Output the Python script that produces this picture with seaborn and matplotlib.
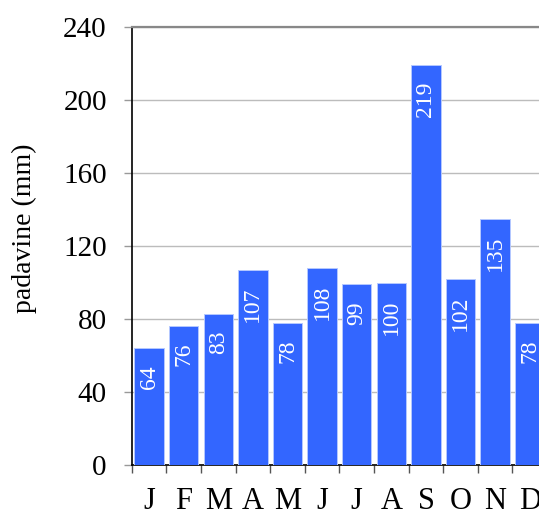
import matplotlib
matplotlib.use("Agg")
import matplotlib.pyplot as plt
import seaborn as sns
import pandas as pd
import numpy as np

months = ["J", "F", "M", "A", "M", "J", "J", "A", "S", "O", "N", "D"]
rainfall = [64, 76, 83, 107, 78, 108, 99, 100, 219, 102, 135, 78]
y_ticks = [0, 40, 80, 120, 160, 200, 240]

sns.set_style("white")
plt.rcParams["font.family"] = ["Liberation Serif", "DejaVu Serif"]
plt.rcParams["text.color"] = "black"
plt.rcParams["xtick.labelcolor"] = "black"
plt.rcParams["ytick.labelcolor"] = "black"
plt.rcParams["axes.labelcolor"] = "black"

df = pd.DataFrame({"pos": np.arange(len(months)), "mm": rainfall})

fig = plt.figure(figsize=(5.39, 5.09), dpi=100)
ax = fig.add_axes([0.2445, 0.0864, 0.7705, 0.8605])

sns.barplot(data=df, x="pos", y="mm", color="#3366ff", saturation=1,
            width=0.85, edgecolor="#b4c8ff", linewidth=0.7, ax=ax, zorder=3)

ax.set_xlim(-0.5, len(months) - 0.5)
ax.set_ylim(0, 240)
ax.set_yticks(y_ticks)
ax.set_yticklabels([str(v) for v in y_ticks])
ax.yaxis.grid(True, color="#bcbcbc", linewidth=1.0)
ax.set_axisbelow(True)

# month labels at bar centres, tick marks between bars
ax.set_xticks(np.arange(len(months)))
ax.set_xticklabels(months)
ax.set_xticks(np.arange(len(months) + 1) - 0.5, minor=True)
ax.tick_params(axis="x", which="major", length=0, pad=16, labelsize=22)
ax.tick_params(axis="x", which="minor", length=6, width=1, color="#555555",
               bottom=True)
ax.tick_params(axis="y", length=6, width=1, color="#999999", pad=12,
               labelsize=21, left=True)

ax.set_xlabel("")
ax.set_ylabel("padavine (mm)", fontsize=20)
ax.yaxis.set_label_coords(-0.229, 0.541)

for s in ["left", "bottom"]:
    ax.spines[s].set_color("black")
    ax.spines[s].set_linewidth(1.2)
ax.spines["top"].set_color("#888888")
ax.spines["top"].set_linewidth(1.6)
ax.spines["right"].set_visible(False)

for p, v in zip(df["pos"], df["mm"]):
    ax.annotate(str(v), xy=(p, v), xytext=(0, -12), textcoords="offset points",
                ha="center", va="top", rotation=90, color="white",
                fontsize=17, zorder=4)

fig.savefig("out.png", dpi=100)
